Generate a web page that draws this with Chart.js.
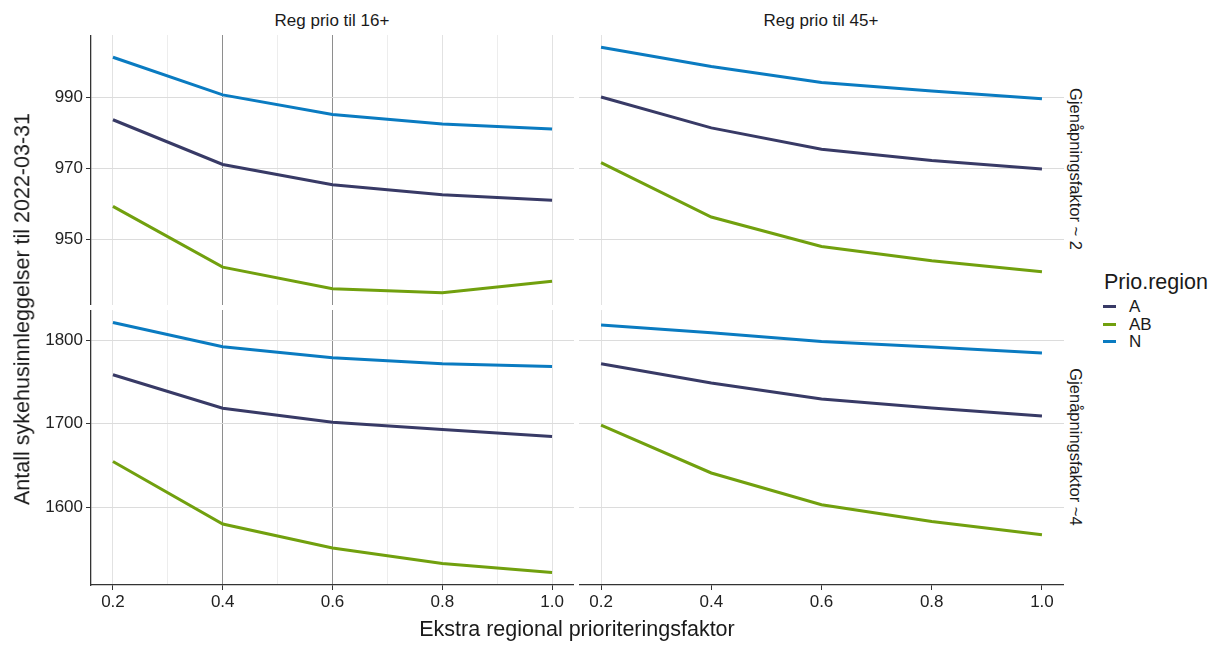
<!DOCTYPE html>
<html>
<head>
<meta charset="utf-8">
<script src="https://cdn.jsdelivr.net/npm/chart.js@4.4.1/dist/chart.umd.min.js"></script>
<style>
  body {
    margin: 0;
    width: 1219px;
    height: 646px;
    background: #fff;
    font-family: "Liberation Sans", Arial, sans-serif;
    color: #1a1a1a;
    position: relative;
    overflow: hidden;
  }
  canvas { position: absolute; }
  .txt { position: absolute; white-space: nowrap; line-height: 1; }
  .strip { font-size: 17px; transform: translate(-50%, -50%); }
  .rstrip { font-size: 16.5px; transform: translate(-50%, -50%) rotate(90deg); }
  .legend-item { position: absolute; left: 1103px; font-size: 17px; line-height: 1; }
  .legend-item span.key {
    position: absolute; left: 0; top: 7px; width: 13px; height: 3px;
  }
  .legend-item span.lab { position: absolute; left: 26px; top: 0; }
</style>
</head>
<body>
<canvas id="tl" width="574" height="270" style="left:0;top:35px"></canvas>
<canvas id="tr" width="485" height="270" style="left:579px;top:35px"></canvas>
<canvas id="bl" width="574" height="310" style="left:0;top:310px"></canvas>
<canvas id="br" width="485" height="310" style="left:579px;top:310px"></canvas>

<div class="txt strip" id="col0" style="left:332px;top:20px"></div>
<div class="txt strip" id="col1" style="left:821px;top:20px"></div>
<div class="txt rstrip" id="row0" style="left:1076px;top:169px"></div>
<div class="txt rstrip" id="row1" style="left:1076px;top:447px"></div>

<div class="txt" style="left:23px;top:309px;font-size:21.5px;transform:translate(-50%,-50%) rotate(-90deg)">Antall sykehusinnleggelser til 2022-03-31</div>
<div class="txt" style="left:577px;top:630px;font-size:21.5px;transform:translate(-50%,-50%)">Ekstra regional prioriteringsfaktor</div>

<div class="txt" style="left:1104px;top:272px;font-size:21.5px">Prio.region</div>
<div id="legend"></div>

<script>
const xValues = [0.2, 0.4, 0.6, 0.8, 1.0];
const xTicks = [0.2, 0.4, 0.6, 0.8, 1.0];
const xGrid = [0.2, 0.3, 0.4, 0.5, 0.6, 0.7, 0.8, 0.9, 1.0];
const seriesNames = ['A', 'AB', 'N'];
const colTitles = ['Reg prio til 16+', 'Reg prio til 45+'];
const rowTitles = ['Gjenåpningsfaktor ~ 2', 'Gjenåpningsfaktor ~4'];
const yTicksTop = [950, 970, 990];
const yTicksBottom = [1600, 1700, 1800];

// Gjenåpningsfaktor ~ 2
const a16f2 = [983.8, 971.2, 965.5, 962.7, 961.1];
const ab16f2 = [959.4, 942.3, 936.2, 935.1, 938.3];
const n16f2 = [1001.4, 990.8, 985.3, 982.6, 981.2];
const a45f2 = [990.2, 981.5, 975.5, 972.3, 969.9];
const ab45f2 = [971.7, 956.4, 948.1, 944.1, 941.0];
const n45f2 = [1004.2, 998.8, 994.3, 991.9, 989.7];

// Gjenåpningsfaktor ~4
const a16f4 = [1758.4, 1718.3, 1701.5, 1692.8, 1684.4];
const ab16f4 = [1654.6, 1579.6, 1550.9, 1532.5, 1521.6];
const n16f4 = [1821.0, 1792.0, 1778.8, 1771.6, 1768.4];
const a45f4 = [1771.6, 1748.5, 1729.3, 1718.6, 1709.0];
const ab45f4 = [1698.0, 1640.8, 1602.7, 1582.8, 1566.8];
const n45f4 = [1818.0, 1808.7, 1798.3, 1791.6, 1784.4];

const seriesColors = ['#383a66', '#71a00e', '#0a7bc1'];
const FONT = "'Liberation Sans', Arial, sans-serif";

Chart.defaults.font.family = FONT;
Chart.defaults.color = '#222';

// ggplot-style 5% expansion of the data range
function expand(arrs, frac) {
  const all = arrs.flat();
  const lo = Math.min(...all);
  const hi = Math.max(...all);
  const pad = (hi - lo) * frac;
  return [lo - pad, hi + pad];
}

const xRange = expand([xValues], 0.05);
const topRange = expand([a16f2, ab16f2, n16f2, a45f2, ab45f2, n45f2], 0.05);
const bottomRange = expand([a16f4, ab16f4, n16f4, a45f4, ab45f4, n45f4], 0.05);

function xGridColor(v, isLeft) {
  if (!isLeft) return v === xTicks[0] ? '#e2e2e2' : 'rgba(0,0,0,0)';
  if (v === 0.4 || v === 0.6) return '#8e8e8e';
  return xTicks.includes(v) ? '#e2e2e2' : '#ededed';
}

function makePanel(id, series, yTicks, yRange, isLeft, isBottom) {
  const canvas = document.getElementById(id);
  return new Chart(canvas, {
    type: 'line',
    data: {
      datasets: series.map((vals, i) => ({
        label: seriesNames[i],
        data: xValues.map((x, j) => ({ x, y: vals[j] })),
        borderColor: seriesColors[i],
        borderWidth: 3,
        pointRadius: 0,
        tension: 0,
        fill: false
      }))
    },
    options: {
      responsive: false,
      animation: false,
      events: [],
      layout: { padding: 0 },
      plugins: { legend: { display: false }, tooltip: { enabled: false } },
      scales: {
        x: {
          type: 'linear',
          min: xRange[0],
          max: xRange[1],
          afterBuildTicks: (s) => {
            s.ticks = (isLeft ? xGrid : xTicks).map((v) => ({ value: v }));
          },
          afterFit: (s) => {
            s.height = isBottom ? 35 : 0;
            s.paddingLeft = 0;
            s.paddingRight = 0;
          },
          grid: {
            color: (ctx) => xGridColor(ctx.tick.value, isLeft),
            lineWidth: 1,
            drawTicks: isBottom,
            tickLength: 5,
            tickColor: (ctx) => (xTicks.includes(ctx.tick.value) ? '#333' : 'rgba(0,0,0,0)')
          },
          border: { display: isBottom, color: '#333', width: 1.3 },
          ticks: {
            display: isBottom,
            padding: 2,
            maxRotation: 0,
            autoSkip: false,
            font: { size: 17 },
            callback: (v) => (xTicks.includes(v) ? v.toFixed(1) : '')
          }
        },
        y: {
          min: yRange[0],
          max: yRange[1],
          afterBuildTicks: (s) => {
            s.ticks = yTicks.map((v) => ({ value: v }));
          },
          afterFit: (s) => {
            s.width = isLeft ? 91 : 0;
            s.paddingTop = 0;
            s.paddingBottom = 0;
          },
          grid: {
            color: '#dcdcdc',
            drawTicks: isLeft,
            tickLength: 5,
            tickColor: '#333'
          },
          border: { display: isLeft, color: '#333', width: 1.3 },
          ticks: {
            display: isLeft,
            padding: 3,
            font: { size: 17 },
            callback: (v) => String(v)
          }
        }
      }
    }
  });
}

makePanel('tl', [a16f2, ab16f2, n16f2], yTicksTop, topRange, true, false);
makePanel('tr', [a45f2, ab45f2, n45f2], yTicksTop, topRange, false, false);
makePanel('bl', [a16f4, ab16f4, n16f4], yTicksBottom, bottomRange, true, true);
makePanel('br', [a45f4, ab45f4, n45f4], yTicksBottom, bottomRange, false, true);

document.getElementById('col0').textContent = colTitles[0];
document.getElementById('col1').textContent = colTitles[1];
document.getElementById('row0').textContent = rowTitles[0];
document.getElementById('row1').textContent = rowTitles[1];

// legend keys
const legend = document.getElementById('legend');
seriesNames.forEach((name, i) => {
  const item = document.createElement('div');
  item.className = 'legend-item';
  item.style.top = (298 + i * 17.5) + 'px';
  item.innerHTML = '<span class="key" style="background:' + seriesColors[i] + '"></span>' +
    '<span class="lab">' + name + '</span>';
  legend.appendChild(item);
});
</script>
</body>
</html>
